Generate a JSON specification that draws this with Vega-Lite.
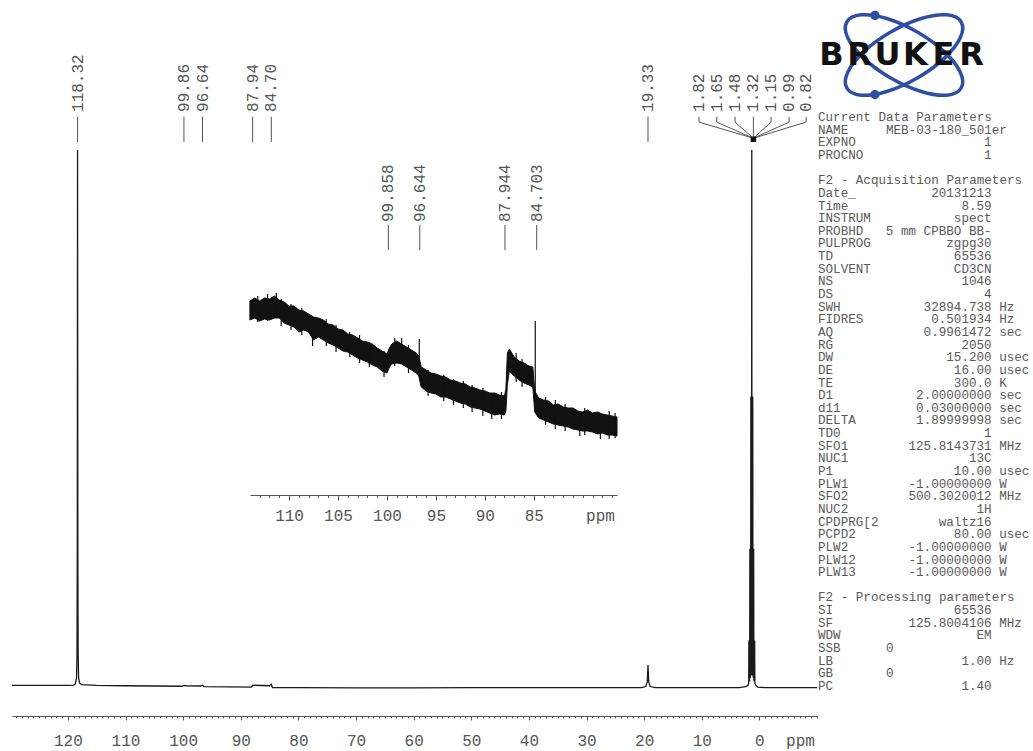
{
  "$schema": "https://vega.github.io/schema/vega-lite/v6.json",
  "width": 1033,
  "height": 716,
  "padding": {"left": 0, "top": 0, "right": 0, "bottom": 4},
  "background": "white",
  "config": {"view": {"stroke": null}, "axis": {"grid": false}},
  "datasets": {
    "spectrum": [
      {"ppm": 129.7, "v": 0.1}, {"ppm": 125, "v": 0.1}, {"ppm": 120, "v": 0.1}, {"ppm": 119.0, "v": 0.15},
      {"ppm": 118.7, "v": 0.4}, {"ppm": 118.5, "v": 1.5}, {"ppm": 118.42, "v": 6}, {"ppm": 118.37, "v": 25},
      {"ppm": 118.32, "v": 100}, {"ppm": 118.27, "v": 25}, {"ppm": 118.22, "v": 6}, {"ppm": 118.14, "v": 1.5},
      {"ppm": 117.95, "v": 0.5}, {"ppm": 117.6, "v": 0.25}, {"ppm": 115, "v": 0.1}, {"ppm": 110, "v": 0.05},
      {"ppm": 105, "v": 0.0}, {"ppm": 100.2, "v": -0.05}, {"ppm": 99.9, "v": 0.1}, {"ppm": 99.5, "v": 0.05},
      {"ppm": 97, "v": 0.0}, {"ppm": 96.64, "v": 0.15}, {"ppm": 96.4, "v": -0.1}, {"ppm": 92, "v": -0.15},
      {"ppm": 88.2, "v": -0.2}, {"ppm": 87.9, "v": 0.15}, {"ppm": 85.0, "v": 0.05}, {"ppm": 84.7, "v": 0.35},
      {"ppm": 84.5, "v": -0.3}, {"ppm": 80, "v": -0.3}, {"ppm": 70, "v": -0.35}, {"ppm": 60, "v": -0.35},
      {"ppm": 50, "v": -0.3}, {"ppm": 40, "v": -0.3}, {"ppm": 30, "v": -0.3}, {"ppm": 20.5, "v": -0.3},
      {"ppm": 19.7, "v": -0.1}, {"ppm": 19.45, "v": 0.8}, {"ppm": 19.33, "v": 3.9}, {"ppm": 19.21, "v": 0.8},
      {"ppm": 18.95, "v": -0.1}, {"ppm": 18, "v": -0.3}, {"ppm": 10, "v": -0.3}, {"ppm": 3.5, "v": -0.3},
      {"ppm": 2.4, "v": -0.1}, {"ppm": 2.0, "v": 0.1}, {"ppm": 1.86, "v": 0.5}, {"ppm": 1.82, "v": 8.5},
      {"ppm": 1.78, "v": 1}, {"ppm": 1.69, "v": 1}, {"ppm": 1.65, "v": 25.6}, {"ppm": 1.61, "v": 1.5},
      {"ppm": 1.52, "v": 2}, {"ppm": 1.48, "v": 54}, {"ppm": 1.44, "v": 2}, {"ppm": 1.36, "v": 3},
      {"ppm": 1.32, "v": 100}, {"ppm": 1.28, "v": 3}, {"ppm": 1.19, "v": 2}, {"ppm": 1.15, "v": 54},
      {"ppm": 1.11, "v": 2}, {"ppm": 1.03, "v": 1.5}, {"ppm": 0.99, "v": 25.6}, {"ppm": 0.95, "v": 1},
      {"ppm": 0.86, "v": 1}, {"ppm": 0.82, "v": 8.5}, {"ppm": 0.78, "v": 0.5}, {"ppm": 0.6, "v": 0.1},
      {"ppm": 0.3, "v": -0.2}, {"ppm": -1, "v": -0.3}, {"ppm": -10, "v": -0.3}
    ],
    "peaklabels": [
      {"label": "118.32", "ppm": 118.32, "lppm": 118.32, "kind": "single"},
      {"label": "99.86", "ppm": 99.86, "lppm": 99.86, "kind": "single"},
      {"label": "96.64", "ppm": 96.64, "lppm": 96.64, "kind": "single"},
      {"label": "87.94", "ppm": 87.94, "lppm": 87.94, "kind": "single"},
      {"label": "84.70", "ppm": 84.70, "lppm": 84.70, "kind": "single"},
      {"label": "19.33", "ppm": 19.33, "lppm": 19.33, "kind": "single"},
      {"label": "1.82", "ppm": 1.82, "lppm": 10.47, "kind": "multi"},
      {"label": "1.65", "ppm": 1.65, "lppm": 7.39, "kind": "multi"},
      {"label": "1.48", "ppm": 1.48, "lppm": 4.22, "kind": "multi"},
      {"label": "1.32", "ppm": 1.32, "lppm": 1.04, "kind": "multi"},
      {"label": "1.15", "ppm": 1.15, "lppm": -2.03, "kind": "multi"},
      {"label": "0.99", "ppm": 0.99, "lppm": -5.16, "kind": "multi"},
      {"label": "0.82", "ppm": 0.82, "lppm": -8.11, "kind": "multi"}
    ],
    "inset_band": [
      {"ppm": 114.0, "hi": 139, "lo": 120}, {"ppm": 113.5, "hi": 142, "lo": 122}, {"ppm": 113.0, "hi": 139, "lo": 119},
      {"ppm": 112.5, "hi": 142, "lo": 121}, {"ppm": 112.0, "hi": 141, "lo": 120}, {"ppm": 111.5, "hi": 144, "lo": 122},
      {"ppm": 111.0, "hi": 140, "lo": 122}, {"ppm": 110.5, "hi": 138, "lo": 117}, {"ppm": 110.0, "hi": 134, "lo": 115},
      {"ppm": 109.5, "hi": 134, "lo": 113}, {"ppm": 109.0, "hi": 130, "lo": 108}, {"ppm": 108.5, "hi": 129, "lo": 110},
      {"ppm": 108.0, "hi": 126, "lo": 108}, {"ppm": 107.5, "hi": 123, "lo": 100}, {"ppm": 107.0, "hi": 122, "lo": 103},
      {"ppm": 106.5, "hi": 120, "lo": 100}, {"ppm": 106.0, "hi": 116, "lo": 97}, {"ppm": 105.5, "hi": 115, "lo": 95},
      {"ppm": 105.0, "hi": 111, "lo": 92}, {"ppm": 104.5, "hi": 110, "lo": 89}, {"ppm": 104.0, "hi": 106, "lo": 88},
      {"ppm": 103.5, "hi": 105, "lo": 85}, {"ppm": 103.0, "hi": 102, "lo": 82}, {"ppm": 102.5, "hi": 99, "lo": 80},
      {"ppm": 102.0, "hi": 98, "lo": 78}, {"ppm": 101.5, "hi": 96, "lo": 75}, {"ppm": 101.0, "hi": 92, "lo": 73},
      {"ppm": 100.5, "hi": 89, "lo": 69}, {"ppm": 100.0, "hi": 86, "lo": 67}, {"ppm": 99.75, "hi": 92, "lo": 73},
      {"ppm": 99.5, "hi": 96, "lo": 76}, {"ppm": 99.0, "hi": 99, "lo": 77}, {"ppm": 98.5, "hi": 96, "lo": 76},
      {"ppm": 98.0, "hi": 93, "lo": 73}, {"ppm": 97.5, "hi": 90, "lo": 70}, {"ppm": 97.0, "hi": 87, "lo": 67},
      {"ppm": 96.75, "hi": 84, "lo": 64}, {"ppm": 96.5, "hi": 73, "lo": 53}, {"ppm": 96.0, "hi": 70, "lo": 49},
      {"ppm": 95.5, "hi": 67, "lo": 47}, {"ppm": 95.0, "hi": 66, "lo": 46}, {"ppm": 94.5, "hi": 64, "lo": 43},
      {"ppm": 94.0, "hi": 63, "lo": 43}, {"ppm": 93.5, "hi": 60, "lo": 41}, {"ppm": 93.0, "hi": 59, "lo": 39},
      {"ppm": 92.5, "hi": 57, "lo": 37}, {"ppm": 92.0, "hi": 56, "lo": 36}, {"ppm": 91.5, "hi": 53, "lo": 33},
      {"ppm": 91.0, "hi": 52, "lo": 32}, {"ppm": 90.5, "hi": 50, "lo": 31}, {"ppm": 90.0, "hi": 49, "lo": 29},
      {"ppm": 89.5, "hi": 47, "lo": 27}, {"ppm": 89.0, "hi": 47, "lo": 25}, {"ppm": 88.5, "hi": 45, "lo": 26},
      {"ppm": 88.0, "hi": 44, "lo": 25}, {"ppm": 87.85, "hi": 51, "lo": 29}, {"ppm": 87.7, "hi": 87, "lo": 55},
      {"ppm": 87.5, "hi": 91, "lo": 69}, {"ppm": 87.0, "hi": 83, "lo": 64}, {"ppm": 86.5, "hi": 79, "lo": 60},
      {"ppm": 86.0, "hi": 77, "lo": 57}, {"ppm": 85.5, "hi": 74, "lo": 55}, {"ppm": 85.1, "hi": 73, "lo": 53},
      {"ppm": 84.9, "hi": 49, "lo": 28}, {"ppm": 84.5, "hi": 42, "lo": 22}, {"ppm": 84.0, "hi": 40, "lo": 20},
      {"ppm": 83.5, "hi": 39, "lo": 18}, {"ppm": 83.0, "hi": 35, "lo": 16}, {"ppm": 82.5, "hi": 36, "lo": 15},
      {"ppm": 82.0, "hi": 33, "lo": 14}, {"ppm": 81.5, "hi": 32, "lo": 13}, {"ppm": 81.0, "hi": 32, "lo": 11},
      {"ppm": 80.5, "hi": 29, "lo": 10}, {"ppm": 80.0, "hi": 28, "lo": 9}, {"ppm": 79.5, "hi": 30, "lo": 9},
      {"ppm": 79.0, "hi": 27, "lo": 8}, {"ppm": 78.5, "hi": 28, "lo": 6}, {"ppm": 78.0, "hi": 26, "lo": 7},
      {"ppm": 77.5, "hi": 25, "lo": 5}, {"ppm": 77.0, "hi": 24, "lo": 5}, {"ppm": 76.5, "hi": 23, "lo": 4}
    ],
    "inset_spikes": [
      {"ppm": 96.7, "lo": 68, "hi": 101},
      {"ppm": 84.85, "lo": 28, "hi": 119},
      {"ppm": 111.3, "lo": 126, "hi": 147},
      {"ppm": 107.6, "lo": 94, "hi": 117},
      {"ppm": 98.5, "lo": 83, "hi": 102},
      {"ppm": 89.3, "lo": 21, "hi": 43},
      {"ppm": 80.3, "lo": 4, "hi": 24},
      {"ppm": 78.2, "lo": 1, "hi": 23},
      {"ppm": 113.2, "lo": 118, "hi": 144}, {"ppm": 112.2, "lo": 119, "hi": 146}, {"ppm": 110.8, "lo": 114, "hi": 141},
      {"ppm": 109.8, "lo": 110, "hi": 136}, {"ppm": 108.7, "lo": 105, "hi": 132}, {"ppm": 106.2, "lo": 94, "hi": 121},
      {"ppm": 105.2, "lo": 88, "hi": 115}, {"ppm": 103.8, "lo": 83, "hi": 108}, {"ppm": 102.8, "lo": 77, "hi": 105},
      {"ppm": 101.8, "lo": 73, "hi": 98}, {"ppm": 100.3, "lo": 63, "hi": 89}, {"ppm": 99.2, "lo": 74, "hi": 102},
      {"ppm": 97.8, "lo": 67, "hi": 95}, {"ppm": 95.8, "lo": 44, "hi": 70}, {"ppm": 94.2, "lo": 39, "hi": 65},
      {"ppm": 93.2, "lo": 35, "hi": 61}, {"ppm": 92.2, "lo": 32, "hi": 59}, {"ppm": 91.3, "lo": 28, "hi": 55},
      {"ppm": 90.2, "lo": 24, "hi": 52}, {"ppm": 88.3, "lo": 21, "hi": 48}, {"ppm": 86.8, "lo": 58, "hi": 87},
      {"ppm": 86.2, "lo": 53, "hi": 81}, {"ppm": 83.8, "lo": 15, "hi": 43}, {"ppm": 82.8, "lo": 11, "hi": 40},
      {"ppm": 81.8, "lo": 9, "hi": 36}, {"ppm": 79.8, "lo": 5, "hi": 32}, {"ppm": 77.3, "lo": 1, "hi": 29},
      {"ppm": 76.7, "lo": 2, "hi": 27}
    ],
    "inset_labels": [
      {"label": "99.858", "ppm": 99.858},
      {"label": "96.644", "ppm": 96.644},
      {"label": "87.944", "ppm": 87.944},
      {"label": "84.703", "ppm": 84.703}
    ],
    "params": [
      {"line": 0, "k": "Current Data Parameters"},
      {"line": 1, "k": "NAME", "lv": "MEB-03-180_501er"},
      {"line": 2, "k": "EXPNO", "v": "1"},
      {"line": 3, "k": "PROCNO", "v": "1"},
      {"line": 5, "k": "F2 - Acquisition Parameters"},
      {"line": 6, "k": "Date_", "v": "20131213"},
      {"line": 7, "k": "Time", "v": "8.59"},
      {"line": 8, "k": "INSTRUM", "v": "spect"},
      {"line": 9, "k": "PROBHD", "v": "5 mm CPBBO BB-"},
      {"line": 10, "k": "PULPROG", "v": "zgpg30"},
      {"line": 11, "k": "TD", "v": "65536"},
      {"line": 12, "k": "SOLVENT", "v": "CD3CN"},
      {"line": 13, "k": "NS", "v": "1046"},
      {"line": 14, "k": "DS", "v": "4"},
      {"line": 15, "k": "SWH", "v": "32894.738", "u": "Hz"},
      {"line": 16, "k": "FIDRES", "v": "0.501934", "u": "Hz"},
      {"line": 17, "k": "AQ", "v": "0.9961472", "u": "sec"},
      {"line": 18, "k": "RG", "v": "2050"},
      {"line": 19, "k": "DW", "v": "15.200", "u": "usec"},
      {"line": 20, "k": "DE", "v": "16.00", "u": "usec"},
      {"line": 21, "k": "TE", "v": "300.0", "u": "K"},
      {"line": 22, "k": "D1", "v": "2.00000000", "u": "sec"},
      {"line": 23, "k": "d11", "v": "0.03000000", "u": "sec"},
      {"line": 24, "k": "DELTA", "v": "1.89999998", "u": "sec"},
      {"line": 25, "k": "TD0", "v": "1"},
      {"line": 26, "k": "SFO1", "v": "125.8143731", "u": "MHz"},
      {"line": 27, "k": "NUC1", "v": "13C"},
      {"line": 28, "k": "P1", "v": "10.00", "u": "usec"},
      {"line": 29, "k": "PLW1", "v": "-1.00000000", "u": "W"},
      {"line": 30, "k": "SFO2", "v": "500.3020012", "u": "MHz"},
      {"line": 31, "k": "NUC2", "v": "1H"},
      {"line": 32, "k": "CPDPRG[2", "v": "waltz16"},
      {"line": 33, "k": "PCPD2", "v": "80.00", "u": "usec"},
      {"line": 34, "k": "PLW2", "v": "-1.00000000", "u": "W"},
      {"line": 35, "k": "PLW12", "v": "-1.00000000", "u": "W"},
      {"line": 36, "k": "PLW13", "v": "-1.00000000", "u": "W"},
      {"line": 38, "k": "F2 - Processing parameters"},
      {"line": 39, "k": "SI", "v": "65536"},
      {"line": 40, "k": "SF", "v": "125.8004106", "u": "MHz"},
      {"line": 41, "k": "WDW", "v": "EM"},
      {"line": 42, "k": "SSB", "lv": "0"},
      {"line": 43, "k": "LB", "v": "1.00", "u": "Hz"},
      {"line": 44, "k": "GB", "lv": "0"},
      {"line": 45, "k": "PC", "v": "1.40"}
    ],
    "logo_mark": [{"logo": "BRUKER"}],
    "logo_letters": [
      {"i": 0, "c": "B"}, {"i": 1, "c": "R"}, {"i": 2, "c": "U"},
      {"i": 3, "c": "K"}, {"i": 4, "c": "E"}, {"i": 5, "c": "R"}
    ]
  },
  "layer": [
    {
      "data": {"name": "spectrum"},
      "mark": {"type": "line", "color": "#1a1a1a", "strokeWidth": 1.3},
      "encoding": {
        "x": {
          "field": "ppm", "type": "quantitative",
          "scale": {"domain": [129.7, -10], "range": [12, 817], "nice": false, "zero": false},
          "axis": {
            "orient": "bottom", "values": [120, 110, 100, 90, 80, 70, 60, 50, 40, 30, 20, 10, 0],
            "format": "d", "tickSize": 4, "labelPadding": 12, "labelFont": "Liberation Mono", "labelFontSize": 16,
            "labelColor": "#555", "domainColor": "#555", "tickColor": "#555", "labelFlush": false, "labelOverlap": false,
            "title": "ppm", "titleX": 800, "titleY": 16, "titleBaseline": "top", "titleAlign": "center",
            "titleFont": "Liberation Mono", "titleFontSize": 16, "titleFontWeight": "normal", "titleColor": "#555"
          }
        },
        "y": {
          "field": "v", "type": "quantitative",
          "scale": {"domain": [0, 100], "range": [686, 150], "nice": false, "zero": false},
          "axis": null
        }
      }
    },
    {
      "data": {"name": "peaklabels"},
      "layer": [
        {
          "mark": {"type": "text", "angle": 270, "align": "left", "baseline": "middle", "font": "Liberation Mono", "fontSize": 16, "color": "#555"},
          "encoding": {
            "x": {
              "field": "lppm", "type": "quantitative",
              "scale": {"domain": [129.7, -10], "range": [12, 817], "nice": false, "zero": false},
              "axis": {"orient": "bottom", "tickCount": 139, "tickSize": 2, "labels": false, "domain": false, "title": null, "tickColor": "#555"}
            },
            "y": {"datum": 107.1, "type": "quantitative", "scale": {"domain": [0, 100], "range": [686, 150], "nice": false, "zero": false}, "axis": null},
            "text": {"field": "label"}
          }
        },
        {
          "transform": [{"filter": "datum.kind == 'single'"}],
          "mark": {"type": "rule", "color": "#555", "strokeWidth": 1},
          "encoding": {
            "x": {"field": "ppm", "type": "quantitative", "title": null},
            "y": {"datum": 106.2, "type": "quantitative", "axis": null},
            "y2": {"datum": 101.5}
          }
        },
        {
          "transform": [{"filter": "datum.kind == 'multi'"}],
          "mark": {"type": "rule", "color": "#555", "strokeWidth": 1},
          "encoding": {
            "x": {"field": "lppm", "type": "quantitative", "title": null},
            "y": {"datum": 106.2, "type": "quantitative", "axis": null},
            "y2": {"datum": 105.2}
          }
        },
        {
          "transform": [{"filter": "datum.kind == 'multi'"}],
          "mark": {"type": "rule", "color": "#555", "strokeWidth": 1},
          "encoding": {
            "x": {"field": "lppm", "type": "quantitative", "title": null},
            "x2": {"datum": 1.04},
            "y": {"datum": 105.2, "type": "quantitative", "axis": null},
            "y2": {"datum": 102.2}
          }
        },
        {
          "transform": [{"filter": "datum.label == '1.32'"}],
          "mark": {"type": "point", "shape": "square", "filled": true, "color": "#111", "size": 30, "opacity": 1},
          "encoding": {
            "x": {"field": "lppm", "type": "quantitative", "title": null},
            "y": {"datum": 102.0, "type": "quantitative", "axis": null}
          }
        }
      ]
    },
    {
      "data": {"name": "inset_band"},
      "mark": {"type": "area", "color": "#111", "opacity": 1, "stroke": "#111", "strokeWidth": 1},
      "encoding": {
        "x": {
          "field": "ppm", "type": "quantitative",
          "scale": {"domain": [113.99, 76.5], "range": [250, 617], "nice": false, "zero": false},
          "axis": {
            "orient": "bottom", "offset": -221, "values": [110, 105, 100, 95, 90, 85], "format": "d",
            "tickSize": 5, "labelPadding": 7, "labelFont": "Liberation Mono", "labelFontSize": 16,
            "labelColor": "#555", "domainColor": "#555", "tickColor": "#555", "labelFlush": false, "labelOverlap": false,
            "title": "ppm", "titleX": 600, "titleY": 12, "titleBaseline": "top", "titleAlign": "center",
            "titleFont": "Liberation Mono", "titleFontSize": 16, "titleFontWeight": "normal", "titleColor": "#555"
          }
        },
        "y": {
          "field": "hi", "type": "quantitative",
          "scale": {"domain": [0, 150], "range": [440, 290], "nice": false, "zero": false},
          "axis": null
        },
        "y2": {"field": "lo"}
      }
    },
    {
      "layer": [
        {
          "data": {"name": "inset_spikes"},
          "mark": {"type": "rule", "color": "#111", "strokeWidth": 1.2},
          "encoding": {
            "x": {
              "field": "ppm", "type": "quantitative",
              "scale": {"domain": [113.99, 76.5], "range": [250, 617], "nice": false, "zero": false},
              "axis": {"orient": "bottom", "offset": -221, "tickCount": 38, "tickSize": 2.5, "labels": false, "domain": false, "title": null, "tickColor": "#555"}
            },
            "y": {"field": "lo", "type": "quantitative", "scale": {"domain": [0, 150], "range": [440, 290], "nice": false, "zero": false}, "axis": null},
            "y2": {"field": "hi"}
          }
        },
        {
          "data": {"name": "inset_labels"},
          "mark": {"type": "text", "angle": 270, "align": "left", "baseline": "middle", "font": "Liberation Mono", "fontSize": 16, "color": "#555"},
          "encoding": {
            "x": {"field": "ppm", "type": "quantitative", "title": null},
            "y": {"datum": 218, "type": "quantitative", "axis": null},
            "text": {"field": "label"}
          }
        },
        {
          "data": {"name": "inset_labels"},
          "mark": {"type": "rule", "color": "#555", "strokeWidth": 1},
          "encoding": {
            "x": {"field": "ppm", "type": "quantitative", "title": null},
            "y": {"datum": 215, "type": "quantitative", "axis": null},
            "y2": {"datum": 190}
          }
        }
      ]
    },
    {
      "data": {"name": "params"},
      "layer": [
        {
          "transform": [{"filter": "isValid(datum.k)"}],
          "mark": {"type": "text", "align": "left", "baseline": "middle", "font": "Liberation Mono", "fontSize": 12.6, "color": "#5a5a5a"},
          "encoding": {
            "x": {"datum": 0, "type": "quantitative", "scale": {"domain": [0, 28], "range": [818, 1029.4], "nice": false, "zero": false}, "axis": null},
            "y": {"field": "line", "type": "quantitative", "scale": {"domain": [0, 45], "range": [117, 686], "nice": false, "zero": false}, "axis": null},
            "text": {"field": "k"}
          }
        },
        {
          "transform": [{"filter": "isValid(datum.v)"}],
          "mark": {"type": "text", "align": "right", "baseline": "middle", "font": "Liberation Mono", "fontSize": 12.6, "color": "#5a5a5a"},
          "encoding": {
            "x": {"datum": 23, "type": "quantitative", "axis": null},
            "y": {"field": "line", "type": "quantitative", "axis": null},
            "text": {"field": "v"}
          }
        },
        {
          "transform": [{"filter": "isValid(datum.u)"}],
          "mark": {"type": "text", "align": "left", "baseline": "middle", "font": "Liberation Mono", "fontSize": 12.6, "color": "#5a5a5a"},
          "encoding": {
            "x": {"datum": 24, "type": "quantitative", "axis": null},
            "y": {"field": "line", "type": "quantitative", "axis": null},
            "text": {"field": "u"}
          }
        },
        {
          "transform": [{"filter": "isValid(datum.lv)"}],
          "mark": {"type": "text", "align": "left", "baseline": "middle", "font": "Liberation Mono", "fontSize": 12.6, "color": "#5a5a5a"},
          "encoding": {
            "x": {"datum": 9, "type": "quantitative", "axis": null},
            "y": {"field": "line", "type": "quantitative", "axis": null},
            "text": {"field": "lv"}
          }
        }
      ]
    },
    {
      "data": {"name": "logo_mark"},
      "layer": [
        {
          "mark": {
            "type": "point", "filled": false, "color": "#2e4fa3", "strokeWidth": 3.5, "opacity": 1, "size": 17424,
            "shape": "M0.866,0.5A1,0.4,30,1,1,-0.866,-0.5A1,0.4,30,1,1,0.866,0.5ZM0.866,-0.5A1,0.4,-30,1,1,-0.866,0.5A1,0.4,-30,1,1,0.866,-0.5Z"
          },
          "encoding": {
            "x": {"datum": 0.5, "type": "quantitative", "scale": {"domain": [0, 1], "range": [846, 962], "nice": false, "zero": false}, "axis": null},
            "y": {"datum": 0.5, "type": "quantitative", "scale": {"domain": [0, 1], "range": [94, 16], "nice": false, "zero": false}, "axis": null}
          }
        },
        {
          "mark": {
            "type": "point", "filled": true, "color": "#2e4fa3", "opacity": 1, "size": 17424,
            "shape": "M-0.51,-0.6A0.07,0.07,0,1,0,-0.37,-0.6A0.07,0.07,0,1,0,-0.51,-0.6ZM-0.51,0.6A0.07,0.07,0,1,0,-0.37,0.6A0.07,0.07,0,1,0,-0.51,0.6Z"
          },
          "encoding": {
            "x": {"datum": 0.5, "type": "quantitative", "axis": null},
            "y": {"datum": 0.5, "type": "quantitative", "axis": null}
          }
        }
      ]
    },
    {
      "data": {"name": "logo_letters"},
      "mark": {"type": "text", "font": "DejaVu Sans", "fontWeight": "bold", "fontSize": 32, "color": "#111", "align": "center", "baseline": "middle"},
      "encoding": {
        "x": {"field": "i", "type": "ordinal", "scale": {"type": "point", "range": [831.5, 971.5], "padding": 0}, "axis": null},
        "y": {"datum": 0.5, "type": "quantitative", "scale": {"domain": [0, 1], "range": [94, 16], "nice": false, "zero": false}, "axis": null},
        "text": {"field": "c"}
      }
    }
  ],
  "resolve": {
    "scale": {"x": "independent", "y": "independent"},
    "axis": {"x": "independent", "y": "independent"}
  }
}
